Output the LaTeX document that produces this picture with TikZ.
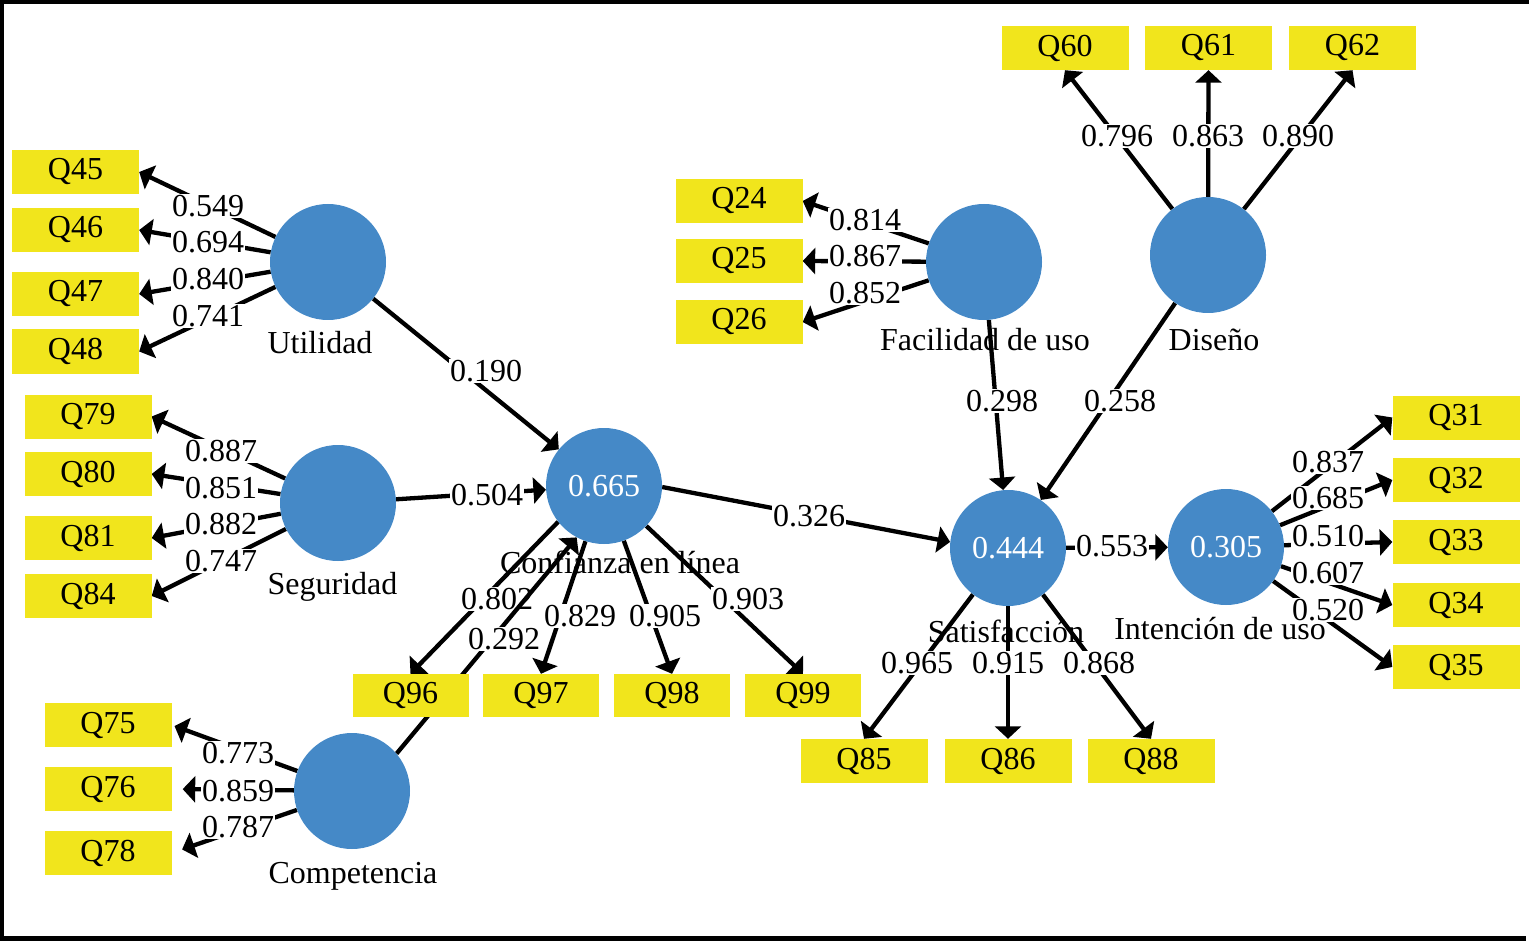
\documentclass[tikz,border=0pt]{standalone}
\usepackage{fontspec}
\setmainfont{Liberation Serif}
\usetikzlibrary{arrows.meta,backgrounds}
\definecolor{lvblue}{RGB}{69,137,199}
\definecolor{mvyellow}{RGB}{241,229,28}
\begin{document}
\begin{tikzpicture}[x=1pt,y=-1pt,
  font=\fontsize{32}{36}\selectfont,
  lv/.style={circle,fill=lvblue,minimum size=116pt,inner sep=0pt,text=white},
  mv/.style={fill=mvyellow,minimum width=127pt,minimum height=44pt,inner sep=0pt},
  mvs/.style={mv,minimum width=116pt,minimum height=43pt},
  lvname/.style={inner sep=0pt,anchor=base},
  conn/.style={line width=4.3pt,-{Triangle[length=12.5pt,width=26pt]}},
  lbl/.style={fill=white,inner sep=1pt},
]
\useasboundingbox (0,0) rectangle (1529,941);
\draw[line width=4.5pt] (1529,2.2) -- (2,2.2) -- (2,938.5) -- (1526,938.5);

% latent variables
\node[lv] (U)  at (328,262) {};
\node[lv] (S)  at (338,503) {};
\node[lv] (Co) at (352,791) {};
\node[lv] (C)  at (604,486) {0.665};
\node[lv] (F)  at (984,262) {};
\node[lv] (D)  at (1208,255) {};
\node[lv] (Sa) at (1008,548) {0.444};
\node[lv] (I)  at (1226,547) {0.305};

% indicators
\node[mv] (Q45) at (75.5,172) {Q45};
\node[mv] (Q46) at (75.5,230) {Q46};
\node[mv] (Q47) at (75.5,294) {Q47};
\node[mv] (Q48) at (75.5,351.5) {Q48};
\node[mv] (Q79) at (88,416.5) {Q79};
\node[mv] (Q80) at (88,474) {Q80};
\node[mv] (Q81) at (88,538) {Q81};
\node[mv] (Q84) at (88,596) {Q84};
\node[mv] (Q75) at (108,725) {Q75};
\node[mv] (Q76) at (108,789) {Q76};
\node[mv] (Q78) at (108,853) {Q78};
\node[mvs] (Q96) at (410.5,695.5) {Q96};
\node[mvs] (Q97) at (541,695.5) {Q97};
\node[mvs] (Q98) at (672,695.5) {Q98};
\node[mvs] (Q99) at (803,695.5) {Q99};
\node[mv] (Q24) at (739,201) {Q24};
\node[mv] (Q25) at (739,261) {Q25};
\node[mv] (Q26) at (739,322) {Q26};
\node[mv] (Q60) at (1065,48) {Q60};
\node[mv] (Q61) at (1208.5,48) {Q61};
\node[mv] (Q62) at (1352.5,48) {Q62};
\node[mv] (Q31) at (1456,417.5) {Q31};
\node[mv] (Q32) at (1456,480) {Q32};
\node[mv] (Q33) at (1456,542) {Q33};
\node[mv] (Q34) at (1456,605) {Q34};
\node[mv] (Q35) at (1456,667) {Q35};
\node[mv] (Q85) at (864,761) {Q85};
\node[mv] (Q86) at (1008,761) {Q86};
\node[mv] (Q88) at (1151,761) {Q88};

% names of latent variables
\node[lvname] (Un)  at (320,353) {Utilidad};
\node[lvname] (Sn)  at (332.5,594) {Seguridad};
\node[lvname] (Con) at (353,883) {Competencia};
\node[lvname] (Cn)  at (620,573) {Confianza en línea};
\node[lvname] (Fn)  at (985,351) {Facilidad de uso};
\node[lvname] (Dn)  at (1214,351) {Diseño};
\node[lvname] (San) at (1006,642) {Satisfacción};
\node[lvname] (In)  at (1220,639) {Intención de uso};

\begin{scope}[on background layer]
% outer loadings
\draw[conn] (U) -- (Q45.east) node[lbl] at (208,206) {0.549};
\draw[conn] (U) -- (Q46.east) node[lbl] at (208,242) {0.694};
\draw[conn] (U) -- (Q47.east) node[lbl] at (208,279) {0.840};
\draw[conn] (U) -- (Q48.east) node[lbl] at (208,316) {0.741};
\draw[conn] (S) -- (Q79.east) node[lbl] at (221,451) {0.887};
\draw[conn] (S) -- (Q80.east) node[lbl] at (221,488) {0.851};
\draw[conn] (S) -- (Q81.east) node[lbl] at (221,524) {0.882};
\draw[conn] (S) -- (Q84.east) node[lbl] at (221,561) {0.747};
\draw[conn,shorten >=3pt] (Co) -- (Q75.east) node[lbl] at (238,753) {0.773};
\draw[conn,shorten >=11pt] (Co) -- (Q76.east) node[lbl] at (238,791) {0.859};
\draw[conn,shorten >=11pt] (Co) -- (Q78.east) node[lbl] at (238,827) {0.787};
\draw[conn] (C.218) -- (Q96.north) node[lbl] at (497,599) {0.802};
\draw[conn] (C) -- (Q97.north) node[lbl] at (580,616) {0.829};
\draw[conn] (C) -- (Q98.north) node[lbl] at (665,616) {0.905};
\draw[conn] (C) -- (Q99.north) node[lbl] at (748,599) {0.903};
\draw[conn] (F) -- (Q24.east) node[lbl] at (865,220) {0.814};
\draw[conn] (F) -- (Q25.east) node[lbl] at (865,256) {0.867};
\draw[conn] (F) -- (Q26.east) node[lbl] at (865,293) {0.852};
\draw[conn] (D) -- (Q60.south) node[lbl] at (1117,136) {0.796};
\draw[conn] (D) -- (Q61.south) node[lbl] at (1208,136) {0.863};
\draw[conn] (D) -- (Q62.south) node[lbl] at (1298,136) {0.890};
\draw[conn] (Sa) -- (Q85.north) node[lbl] at (917,663) {0.965};
\draw[conn] (Sa) -- (Q86.north) node[lbl] at (1008,663) {0.915};
\draw[conn] (Sa) -- (Q88.north) node[lbl] at (1099,663) {0.868};
\draw[conn] (I) -- (Q31.west) node[lbl] at (1328,462) {0.837};
\draw[conn] (I) -- (Q32.west) node[lbl] at (1328,498) {0.685};
\draw[conn] (I) -- (Q33.west) node[lbl] at (1328,536) {0.510};
\draw[conn] (I) -- (Q34.west) node[lbl] at (1328,573) {0.607};
\draw[conn] (I) -- (Q35.west) node[lbl] at (1328,610) {0.520};
% structural paths
\draw[conn] (U) -- (C) node[lbl] at (486,371) {0.190};
\draw[conn] (S) -- (C) node[lbl] at (487,495) {0.504};
\draw[conn] (Co.40) -- (C.242) node[lbl] at (504,639) {0.292};
\draw[conn] (C.-1) -- (Sa.174) node[lbl] at (809,516) {0.326};
\draw[conn] (F) -- (Sa) node[lbl] at (1002,401) {0.298};
\draw[conn] (D) -- (Sa) node[lbl] at (1120,401) {0.258};
\draw[conn] (Sa) -- (I) node[lbl] at (1112,546) {0.553};
\end{scope}
\end{tikzpicture}
\end{document}
